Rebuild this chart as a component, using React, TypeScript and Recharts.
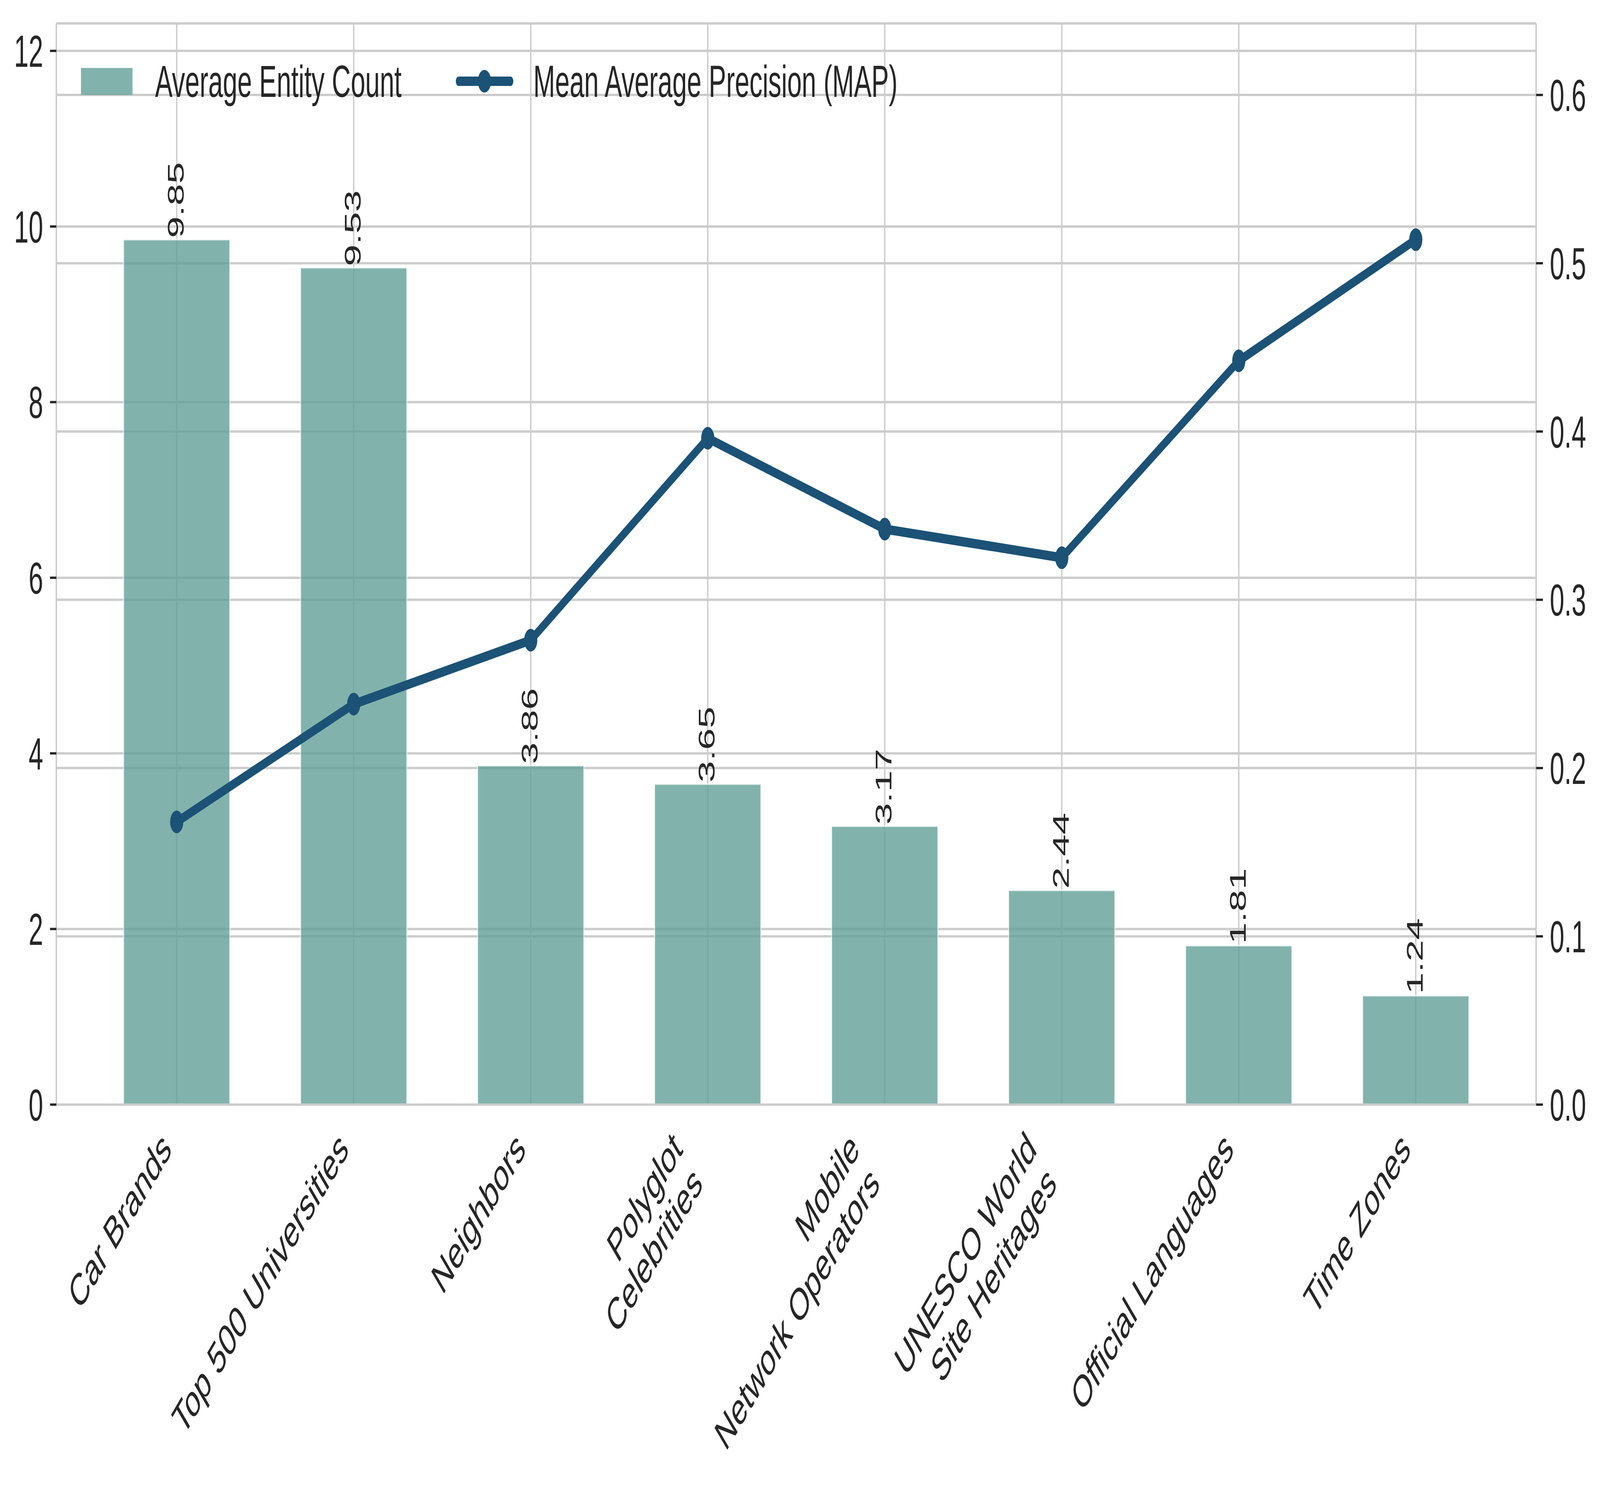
import {
  Bar,
  CartesianGrid,
  ComposedChart,
  LabelList,
  Legend,
  Line,
  ReferenceLine,
  XAxis,
  YAxis,
} from 'recharts'

const CATEGORIES = [
  'Car Brands',
  'Top 500 Universities',
  'Neighbors',
  'Polyglot\nCelebrities',
  'Mobile\nNetwork Operators',
  'UNESCO World\nSite Heritages',
  'Official Languages',
  'Time Zones',
]
const ENTITY_COUNTS = [9.85, 9.53, 3.86, 3.65, 3.17, 2.44, 1.81, 1.24]
const MAP_SCORES = [0.168, 0.238, 0.276, 0.396, 0.342, 0.325, 0.442, 0.514]

const LEFT_TICKS = [0, 2, 4, 6, 8, 10, 12]
const RIGHT_TICKS = [0, 0.1, 0.2, 0.3, 0.4, 0.5, 0.6]
const LEFT_MAX = 12.3125
const RIGHT_MAX = 0.6425

const W = 7038
const H = 3807

const BAR_COLOR = '#62a097'
const LINE_COLOR = '#1b5276'
const GRID = '#cccccc'
const TEXT = '#262626'
const FONT = '"Liberation Sans", Arial, Helvetica, sans-serif'

const data = CATEGORIES.map((name, i) => ({
  name,
  count: ENTITY_COUNTS[i],
  map: MAP_SCORES[i],
}))

// matplotlib-style rotated label: ha='right', multi-line right aligned
function CategoryTick({ x, y, payload }: any) {
  const lines = String(payload.value).split('\n')
  const fs = 115
  const spacing = 125
  const boxH = (lines.length - 1) * spacing + 128
  const py = y + 46 + 0.707 * boxH
  return (
    <g transform={`translate(${x},${py}) rotate(-45)`}>
      <text textAnchor="end" fontSize={fs} fill={TEXT}>
        {lines.map((l, i) => (
          <tspan key={i} x={0} y={-24 - (lines.length - 1 - i) * spacing}>
            {l}
          </tspan>
        ))}
      </text>
    </g>
  )
}

function BarValue({ x, y, width, value }: any) {
  const cx = Number(x) + Number(width) / 2 + 30
  return (
    <text
      transform={`translate(${cx},${Number(y) - 4}) rotate(-90)`}
      textAnchor="start"
      fontSize={100}
      fill={TEXT}
    >
      {Number(value).toFixed(2)}
    </text>
  )
}

function LegendContent({ payload }: any) {
  const lefts = [0, 1649]
  return (
    <div style={{ position: 'relative', height: 116 }}>
      {(payload ?? []).map((entry: any, i: number) => (
        <div
          key={entry.value}
          style={{
            position: 'absolute',
            left: lefts[i],
            top: 0,
            height: 116,
            display: 'flex',
            alignItems: 'center',
            whiteSpace: 'nowrap',
          }}
        >
          {entry.type === 'line' ? (
            <svg width={253} height={70} style={{ marginRight: 88 }}>
              <line x1={12} y1={35} x2={241} y2={35} stroke={LINE_COLOR} strokeWidth={24} strokeLinecap="round" />
              <circle cx={126} cy={35} r={29} fill={LINE_COLOR} />
            </svg>
          ) : (
            <div
              style={{
                width: 227,
                height: 69,
                background: BAR_COLOR,
                opacity: 0.8,
                marginRight: 99,
              }}
            />
          )}
          <span style={{ fontSize: 115, lineHeight: '115px', color: TEXT }}>{entry.value}</span>
        </div>
      ))}
    </div>
  )
}

export default function App() {
  // the browser window may come out smaller than asked; stretch the fixed-size chart to fill it
  const sx = typeof window === 'undefined' ? 1 : Math.min(1, window.innerWidth / W)
  const sy = typeof window === 'undefined' ? 1 : Math.min(1, window.innerHeight / H)

  return (
    <div
      style={{
        position: 'absolute',
        left: 0,
        top: 0,
        width: W * sx,
        height: H * sy,
        overflow: 'hidden',
        background: '#ffffff',
      }}
    >
      <div
        style={{
          width: W,
          height: H,
          transform: `scale(${sx}, ${sy})`,
          transformOrigin: '0 0',
          fontFamily: FONT,
        }}
      >
        <ComposedChart
          width={W}
          height={H}
          data={data}
          margin={{ top: 60, right: 0, bottom: 0, left: 0 }}
          barCategoryGap="20%"
        >
          <CartesianGrid yAxisId="left" stroke={GRID} strokeWidth={6} />
          <XAxis
            dataKey="name"
            interval={0}
            height={979}
            padding={{ left: 140, right: 140 }}
            tickLine={false}
            tickSize={0}
            tickMargin={0}
            axisLine={{ stroke: GRID, strokeWidth: 6 }}
            tick={<CategoryTick />}
          />
          <YAxis
            yAxisId="left"
            width={248}
            domain={[0, LEFT_MAX]}
            ticks={LEFT_TICKS}
            allowDataOverflow
            tickSize={28}
            tickMargin={30}
            tickLine={{ stroke: TEXT, strokeWidth: 6 }}
            axisLine={{ stroke: GRID, strokeWidth: 6 }}
            tick={{ fontSize: 115, fill: TEXT }}
          />
          <YAxis
            yAxisId="right"
            orientation="right"
            width={281}
            domain={[0, RIGHT_MAX]}
            ticks={RIGHT_TICKS}
            allowDataOverflow
            tickSize={30}
            tickMargin={30}
            tickFormatter={(v: number) => v.toFixed(1)}
            tickLine={{ stroke: TEXT, strokeWidth: 6 }}
            axisLine={{ stroke: GRID, strokeWidth: 6 }}
            tick={{ fontSize: 115, fill: TEXT }}
          />
          <Bar
            yAxisId="left"
            dataKey="count"
            name="Average Entity Count"
            fill={BAR_COLOR}
            fillOpacity={0.8}
            stroke="#ffffff"
            strokeOpacity={0.7}
            strokeWidth={4}
            isAnimationActive={false}
          >
            <LabelList dataKey="count" content={<BarValue />} />
          </Bar>
          <CartesianGrid yAxisId="right" vertical={false} stroke={GRID} strokeWidth={6} />
          <ReferenceLine yAxisId="left" y={LEFT_MAX} stroke={GRID} strokeWidth={6} />
          <Line
            yAxisId="right"
            dataKey="map"
            name="Mean Average Precision (MAP)"
            type="linear"
            stroke={LINE_COLOR}
            strokeWidth={24}
            dot={{ r: 29, fill: LINE_COLOR, stroke: LINE_COLOR, strokeWidth: 0 }}
            activeDot={false}
            legendType="line"
            isAnimationActive={false}
          />
          <Legend
            layout="horizontal"
            verticalAlign="middle"
            align="center"
            wrapperStyle={{ position: 'absolute', left: 356, top: 150, width: 4000, height: 116 }}
            content={<LegendContent />}
          />
        </ComposedChart>
      </div>
    </div>
  )
}
